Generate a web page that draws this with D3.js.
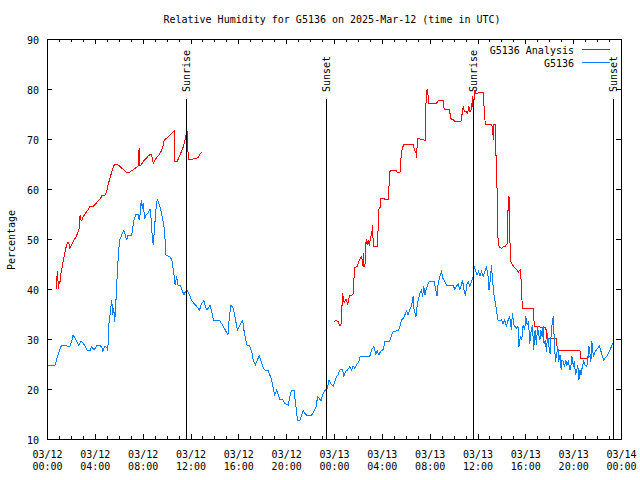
<!DOCTYPE html>
<html><head><meta charset="utf-8">
<script src="https://cdn.jsdelivr.net/npm/d3@7"></script>
<style>
html,body{margin:0;padding:0;background:#fff;}
svg{display:block;}
text{font-family:"DejaVu Sans Mono","Liberation Mono",monospace;font-size:10px;fill:#000;}
</style></head>
<body>
<svg id="c" width="640" height="480"></svg>
<script>
// ---- data (minutes since 2025-03-12 00:00 UTC) ----
const obsMinutes = [5,40,50,55,70,75,95,100,115,125,130,140,150,160,170,180,190,200,215,225,235,245,250,265,275,280,290,300,305,310,320,325,330,335,340,345,350,355,360,365,375,385,390,400,405,425,435,445,460,462,467,473,478,482,490,497,505,517,522,527,533,540,547,553,560,570,580,587,593,597,607,620,628,637,643,650,657,667,675,687,695,703,712,725,737,752,765,773,787,797,803,818,826,835,865,877,893,908,915,923,935,943,955,968,982,988,998,1002,1015,1027,1035,1045,1055,1065,1072,1082,1093,1110,1118,1127,1135,1143,1152,1160,1168,1185,1193,1210,1215,1222,1227,1240,1245,1252,1257,1270,1278,1286,1294,1303,1328,1339,1350,1358,1366,1375,1386,1396,1406,1415,1423,1436,1445,1453,1461,1470,1482,1490,1498,1508,1520,1528,1536,1545,1553,1566,1571,1580,1620,1628,1640,1650,1656,1665,1673,1687,1695,1703,1720,1729,1737,1762,1771,1779,1787,1795,1804,1812,1821,1829,1837,1842,1851,1857,1864,1871,1879,1884,1891,1896,1904,1912,1921,1942,1951,1957,1962,1971,1979,1987,1996,2005,2038,2046,2055,2063,2072,2080,2085,2092,2100,2105,2113,2122,2130,2139,2144,2152,2158,2165,2172,2180,2188,2197,2205,2213,2218,2225,2230,2235,2242,2247,2255,2263,2272,2280,2288,2297,2305,2313,2322,2330,2335,2343,2355,2363,2368,2375,2382,2389,2397,2402,2409,2416,2422,2429,2436,2442,2449,2456,2461,2468,2473,2478,2484,2489,2494,2500,2506,2512,2517,2524,2529,2534,2540,2546,2551,2558,2563,2568,2574,2580,2584,2591,2596,2603,2608,2616,2624,2629,2634,2641,2646,2652,2658,2663,2669,2674,2679,2686,2693,2700,2708,2713,2719,2724,2729,2734,2741,2750,2758,2771,2783,2792,2808,2825,2838];
const obsValues = [24.7,24.7,26.1,26.7,28.5,28.7,28.7,28.6,28.6,29.7,30.7,30.3,29.5,28.7,29.5,29.3,28.6,27.8,27.6,28.5,27.8,28.3,28.7,28.7,28.3,27.6,28.5,28.3,27.6,32.8,36.1,37.8,34.8,36.1,33.5,36.8,41.1,44.8,47.8,49.8,50.8,51.7,51.1,49.8,50.8,50.8,53.5,54.9,54.8,53.8,54.8,57.8,56.1,57.1,54.1,54.8,55.1,55.9,54.1,51.1,48.8,52.5,56.1,57.9,57.3,56.1,54.1,52.5,49.5,46.8,46.6,46.3,45.5,42.8,40.8,42.5,40.8,40.8,40.1,38.8,39.5,39.7,39.1,37.8,37.1,36.5,35.7,36.9,37.7,36.3,35.8,36.8,35.5,33.8,33.8,33.0,31.9,30.8,34.5,36.8,36.1,34.5,31.8,32.8,33.7,31.8,29.8,28.8,28.7,27.5,25.8,24.8,25.8,26.6,25.8,24.5,23.8,23.7,22.8,21.8,20.1,18.8,19.8,18.8,17.9,17.8,17.1,16.8,17.8,19.1,19.8,19.8,17.8,15.5,13.8,13.8,14.8,15.7,15.1,14.8,14.8,15.5,16.5,18.5,18.1,17.7,19.1,19.8,20.0,21.8,21.1,20.6,21.5,22.5,22.9,23.8,23.9,22.5,23.5,23.8,24.5,23.8,24.6,24.1,24.8,25.6,26.5,26.6,26.6,27.8,28.5,26.8,27.7,26.8,27.5,27.9,29.5,29.6,29.6,30.8,31.5,31.7,32.5,33.8,34.1,34.8,35.6,34.8,35.9,36.6,38.5,35.8,34.5,36.5,38.1,39.1,39.8,38.5,40.5,38.8,40.1,41.1,41.6,41.6,39.8,38.6,40.8,42.5,43.5,42.1,41.5,40.7,40.7,39.9,40.6,41.0,39.9,41.0,41.7,39.9,38.6,40.8,41.5,40.5,41.6,42.5,44.5,43.5,42.8,43.5,42.6,43.5,42.5,43.5,44.5,42.5,39.8,42.1,44.8,42.0,39.1,37.8,35.8,33.8,33.6,33.8,33.1,33.8,32.5,33.7,34.4,31.8,35.2,32.8,32.1,32.6,28.5,30.5,29.8,32.8,31.8,34.5,32.8,33.5,29.1,31.5,32.8,27.8,31.8,28.8,32.5,30.8,29.8,31.8,30.5,32.5,29.1,29.8,27.5,31.1,28.8,27.1,30.5,32.8,34.6,29.1,25.5,27.1,28.5,25.5,26.8,23.8,25.8,25.5,24.5,25.8,24.8,25.5,23.8,24.8,26.5,24.5,25.5,22.8,23.8,24.8,21.8,23.8,22.8,24.5,25.5,24.8,24.5,25.5,28.5,27.1,25.5,29.5,26.5,27.5,27.9,28.6,27.1,25.8,26.5,27.8,29.1];

const anaMinutes1 = [45,48,53,57,62,65,70,77,82,87,94,102,109,115,124,132,146,157,162,166,171,176,182,196,207,216,232,246,257,269,277,291,300,308,316,325,333,341,355,366,383,400,413,430,447,458,462,465,472,483,497,508,522,528,533,542,550,562,572,580,589,601,617,631,639,642,653,667,681,692,697,704,709,726,743,759,768,776];
const anaValues1 = [39.9,41.8,43.5,40.1,41.5,41.2,43.1,44.5,45.8,46.8,48.1,49.3,49.2,48.1,48.8,49.5,50.5,51.5,52.3,54.8,53.8,53.8,54.5,55.3,55.9,56.5,56.5,57.1,57.7,58.1,58.8,58.8,59.6,61.1,62.1,63.5,64.5,65.0,64.9,64.5,63.9,63.3,63.3,63.8,64.3,64.6,68.1,64.8,64.8,65.5,66.1,66.6,67.0,66.3,65.1,65.8,66.3,66.8,67.5,68.3,69.9,70.1,70.8,71.3,71.6,65.5,65.5,66.8,68.1,69.7,70.8,71.5,65.8,65.9,66.1,66.3,67.1,67.3];

const anaMinutes2 = [1440,1453,1462,1467,1475,1479,1484,1487,1492,1500,1509,1517,1529,1537,1540,1542,1557,1567,1579,1584,1587,1590,1595,1599,1601,1607,1612,1617,1624,1629,1634,1637,1657,1662,1666,1671,1674,1712,1716,1721,1729,1751,1758,1771,1775,1780,1785,1788,1838,1843,1850,1855,1858,1888,1897,1900,1903,1908,1912,1915,1947,1955,1963,1988,1993,2018,2022,2027,2033,2038,2047,2077,2083,2089,2094,2102,2110,2117,2122,2131,2134,2139,2144,2147,2152,2173,2189,2193,2198,2203,2223,2231,2236,2239,2242,2251,2254,2257,2261,2268,2281,2289,2301,2309,2314,2318,2321,2326,2335,2345,2356,2364,2369,2376,2381,2385,2439,2442,2447,2503,2507,2557,2560,2616,2619,2674,2679,2708,2714,2724];
const anaValues2 = [33.5,33.7,33.4,32.8,32.8,35.9,39.2,37.8,37.3,38.0,37.0,38.6,38.8,39.1,41.7,44.3,44.5,45.8,46.5,44.6,47.1,44.6,44.6,47.1,49.9,48.8,49.8,48.7,50.5,50.8,52.8,48.6,48.6,52.5,56.1,56.3,58.1,57.9,60.6,63.5,63.8,63.8,63.3,63.3,65.8,67.7,68.1,69.0,69.0,67.8,67.5,66.3,70.1,69.9,69.7,74.8,79.1,79.9,78.8,77.1,77.1,77.2,77.7,77.7,75.9,75.9,75.1,74.1,73.8,73.9,73.5,73.5,75.1,76.5,75.4,75.5,75.1,76.5,75.5,76.0,78.6,75.5,78.8,79.8,79.1,79.3,79.3,76.5,73.5,72.8,72.9,73.0,72.1,69.9,72.9,72.9,63.1,63.1,50.8,48.5,48.1,48.5,48.6,49.1,57.1,58.6,52.1,45.5,44.9,44.3,43.9,43.3,43.6,43.8,40.0,36.1,36.1,34.1,32.5,32.3,30.1,30.1,27.7,27.7,27.8,27.8,26.1,26.1,26.5,26.5];

const sunEventLabels = ["Sunrise","Sunset","Sunrise","Sunset"];
const sunEventMinutes = [699,1401,2139,2840];

const yTickValues = [10,20,30,40,50,60,70,80,90];
const seriesNames = ["G5136 Analysis","G5136"];
const seriesColors = ["#ff0000","#0080ff"];
const titleText = "Relative Humidity for G5136 on 2025-Mar-12 (time in UTC)";
const yLabel = "Percentage";

// ---- chart ----
const T0 = Date.UTC(2025,2,12);
const toDate = m => new Date(T0 + m*60000);
const L=47, R=621, TOP=39, B=439;
const svg = d3.select("#c");
const x = d3.scaleUtc().domain([new Date(T0), new Date(T0+48*3600000)]).range([L,R]);
const y = d3.scaleLinear().domain([10,90]).range([B,TOP]);

svg.append("text").attr("x",332).attr("y",23).attr("text-anchor","middle").text(titleText);
svg.append("text").attr("transform",`translate(15,240) rotate(-90)`).attr("text-anchor","middle").text(yLabel);

const majorTicks = d3.utcHour.every(4).range(new Date(T0), new Date(T0+48*3600000+1));
const minorTicks = d3.utcHour.every(1).range(new Date(T0), new Date(T0+48*3600000+1)).filter(d=>d.getUTCHours()%4!==0);

function styleAxis(g){ g.select(".domain").remove(); g.selectAll("line").attr("stroke","#000").attr("shape-rendering","crispEdges"); }

svg.append("g").attr("transform",`translate(0,${B})`).call(d3.axisBottom(x).tickValues(minorTicks).tickSize(-3).tickSizeOuter(0).tickFormat("")).call(styleAxis);
svg.append("g").attr("transform",`translate(0,${TOP})`).call(d3.axisTop(x).tickValues(minorTicks).tickSize(-3).tickSizeOuter(0).tickFormat("")).call(styleAxis);
svg.append("g").attr("transform",`translate(0,${TOP})`).call(d3.axisTop(x).tickValues(majorTicks).tickSize(-5).tickSizeOuter(0).tickFormat("")).call(styleAxis);
const xb = svg.append("g").attr("transform",`translate(0,${B})`).call(d3.axisBottom(x).tickValues(majorTicks).tickSize(-5).tickSizeOuter(0)).call(styleAxis);
const fD = d3.utcFormat("%m/%d"), fT = d3.utcFormat("%H:%M");
xb.selectAll(".tick text").each(function(d){
  const t = d3.select(this).text(null).attr("y",null).attr("dy",null)
    .attr("font-family",null).attr("font-size",null).attr("fill",null);
  t.append("tspan").attr("x",0).attr("y",19).text(fD(d));
  t.append("tspan").attr("x",0).attr("y",31).text(fT(d));
});
const yl = svg.append("g").attr("transform",`translate(${L},0)`).call(d3.axisLeft(y).tickValues(yTickValues).tickSize(-5).tickSizeOuter(0).tickPadding(8)).call(styleAxis);
yl.selectAll("text").attr("font-family",null).attr("font-size",null).attr("fill",null).attr("dy","0.4em");
svg.append("g").attr("transform",`translate(${R},0)`).call(d3.axisRight(y).tickValues(yTickValues).tickSize(-5).tickSizeOuter(0).tickFormat("")).call(styleAxis);

// frame
svg.append("rect").attr("x",L).attr("y",TOP).attr("width",R-L).attr("height",B-TOP)
  .attr("fill","none").attr("stroke","#000").attr("shape-rendering","crispEdges");

// data lines
const line = d3.line().x(d=>x(toDate(d[0]))).y(d=>y(d[1]));
const obs = obsMinutes.map((m,i)=>[m,obsValues[i]]);
const ana1 = anaMinutes1.map((m,i)=>[m,anaValues1[i]]);
const ana2 = anaMinutes2.map((m,i)=>[m,anaValues2[i]]);
[ana1,ana2].forEach(s=>svg.append("path").attr("d",line(s)).attr("fill","none").attr("stroke",seriesColors[0]).attr("stroke-width",1).attr("shape-rendering","crispEdges"));
svg.append("path").attr("d",line(obs)).attr("fill","none").attr("stroke",seriesColors[1]).attr("stroke-width",1).attr("shape-rendering","crispEdges");

// sun events
sunEventMinutes.forEach((m,i)=>{
  const xx = Math.round(x(toDate(m)))+0.5;
  svg.append("line").attr("x1",xx).attr("x2",xx).attr("y1",99).attr("y2",B).attr("stroke","#000").attr("shape-rendering","crispEdges");
  svg.append("text").attr("transform",`translate(${xx+3.5},92) rotate(-90)`).attr("text-anchor","start").text(sunEventLabels[i]);
});

// legend
seriesNames.forEach((n,i)=>{
  const yy = 50 + i*13;
  svg.append("text").attr("x",574).attr("y",yy+3.5).attr("text-anchor","end").text(n);
  svg.append("line").attr("x1",582).attr("x2",610).attr("y1",yy-0.5).attr("y2",yy-0.5).attr("stroke",seriesColors[i]).attr("shape-rendering","crispEdges");
});
</script>
</body></html>
